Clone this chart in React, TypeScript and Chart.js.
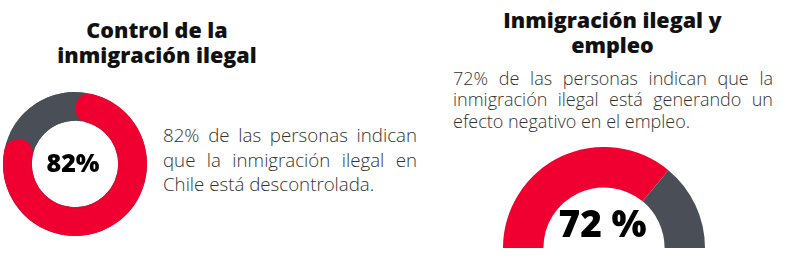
import React, { useEffect, useRef } from "react";
import { Chart, registerables } from "chart.js";

Chart.register(...registerables);

const controlLabels = ["Descontrolada", "Otro"];
const controlValues = [82, 18];
const controlCenter = "82%";

const empleoLabels = ["Efecto negativo", "Otro"];
const empleoValues = [72, 28];
const empleoCenter = "72 %";

const titleLeft = ["Control de la", "inmigración ilegal"];
const bodyLeft = [
  "82% de las personas indican",
  "que la inmigración ilegal en",
  "Chile está descontrolada.",
];
const titleRight = ["Inmigración ilegal y", "empleo"];
const bodyRight = [
  "72% de las personas indican que la",
  "inmigración ilegal está generando un",
  "efecto negativo en el empleo.",
];

const RED = "#EF0030";
const GREY = "#4A4F57";
const FONT = '"Open Sans", sans-serif';

const ringBg = {
  id: "ringBg",
  beforeDatasetsDraw(chart: any, _args: any, opts: any) {
    if (!opts || !opts.color) return;
    const arc = chart.getDatasetMeta(0).data[0];
    if (!arc) return;
    const { x, y, innerRadius, outerRadius } = arc.getProps(
      ["x", "y", "innerRadius", "outerRadius"],
      true
    );
    const ctx = chart.ctx;
    ctx.save();
    ctx.beginPath();
    ctx.arc(x, y, outerRadius, 0, Math.PI * 2);
    ctx.arc(x, y, innerRadius, 0, Math.PI * 2, true);
    ctx.closePath();
    ctx.fillStyle = opts.color;
    ctx.fill();
    ctx.restore();
  },
};

const centerText = {
  id: "centerText",
  afterDatasetsDraw(chart: any, _args: any, opts: any) {
    if (!opts || !opts.text) return;
    const arc = chart.getDatasetMeta(0).data[0];
    if (!arc) return;
    const { x, y } = arc.getProps(["x", "y"], true);
    const ctx = chart.ctx;
    ctx.save();
    ctx.font = opts.font;
    ctx.fillStyle = "#000";
    ctx.textAlign = "center";
    ctx.textBaseline = "alphabetic";
    ctx.fillText(opts.text, x + (opts.dx || 0), y + (opts.dy || 0));
    ctx.restore();
  },
};

function Donut(props: {
  labels: string[];
  values: number[];
  width: number;
  height: number;
  half?: boolean;
  rounded?: boolean;
  text: string;
  font: string;
  dx: number;
  dy: number;
}) {
  const ref = useRef<HTMLCanvasElement>(null);
  useEffect(() => {
    if (!ref.current) return;
    const chart = new Chart(ref.current, {
      type: "doughnut",
      data: {
        labels: props.labels,
        datasets: [
          {
            data: props.values,
            backgroundColor: [RED, GREY],
            borderWidth: 0,
            borderRadius: props.rounded ? [40, 0] : 0,
            hoverOffset: 0,
          } as any,
        ],
      },
      options: {
        responsive: false,
        animation: false,
        events: [],
        cutout: "60%",
        rotation: props.half ? -90 : 0,
        circumference: props.half ? 180 : 360,
        layout: { padding: 0 },
        plugins: {
          legend: { display: false },
          tooltip: { enabled: false },
          ringBg: { color: props.rounded ? GREY : null },
          centerText: { text: props.text, font: props.font, dx: props.dx, dy: props.dy },
        } as any,
      },
      plugins: [ringBg, centerText],
    });
    return () => chart.destroy();
  }, []);
  return <canvas ref={ref} width={props.width} height={props.height} />;
}

const abs = (left: number, top: number, extra: any = {}) => ({
  position: "absolute" as const,
  left,
  top,
  ...extra,
});

export default function App() {
  const titleStyle = {
    fontFamily: FONT,
    fontWeight: 800,
    fontSize: 21.5,
    lineHeight: "25px",
    color: "#111",
    textAlign: "center" as const,
    whiteSpace: "nowrap" as const,
  };
  const bodyStyle = {
    fontFamily: FONT,
    fontWeight: 300,
    color: "#333",
    whiteSpace: "nowrap" as const,
  };
  const lineStyle = (last: boolean) => ({
    textAlign: (last ? "left" : "justify") as any,
    textAlignLast: (last ? "left" : "justify") as any,
    whiteSpace: "normal" as const,
  });
  return (
    <div
      style={{
        position: "fixed",
        left: 0,
        top: 0,
        width: 789,
        height: 265,
        background: "#fff",
        overflow: "hidden",
      }}
    >
      <div style={abs(7, 17, { ...titleStyle, width: 300 })}>
        {titleLeft.map((t, i) => (
          <div key={i}>{t}</div>
        ))}
      </div>
      <div style={abs(462.5, 7, { ...titleStyle, width: 300 })}>
        {titleRight.map((t, i) => (
          <div key={i}>{t}</div>
        ))}
      </div>
      <div style={abs(163, 123, { ...bodyStyle, fontSize: 18.7, width: 254, lineHeight: "24.5px" })}>
        {bodyLeft.map((t, i) => (
          <div key={i} style={lineStyle(i === bodyLeft.length - 1)}>
            {t}
          </div>
        ))}
      </div>
      <div style={abs(453, 68, { ...bodyStyle, fontSize: 18, width: 320, lineHeight: "21.3px" })}>
        {bodyRight.map((t, i) => (
          <div key={i} style={lineStyle(i === bodyRight.length - 1)}>
            {t}
          </div>
        ))}
      </div>
      <div style={abs(3, 92)}>
        <Donut
          labels={controlLabels}
          values={controlValues}
          width={144}
          height={144}
          rounded
          text={controlCenter}
          font={`800 25px ${FONT}`}
          dx={-2}
          dy={8}
        />
      </div>
      <div style={abs(503, 147)}>
        <Donut
          labels={empleoLabels}
          values={empleoValues}
          width={202}
          height={101}
          half
          text={empleoCenter}
          font={`800 37px ${FONT}`}
          dx={-1.5}
          dy={-11}
        />
      </div>
    </div>
  );
}
